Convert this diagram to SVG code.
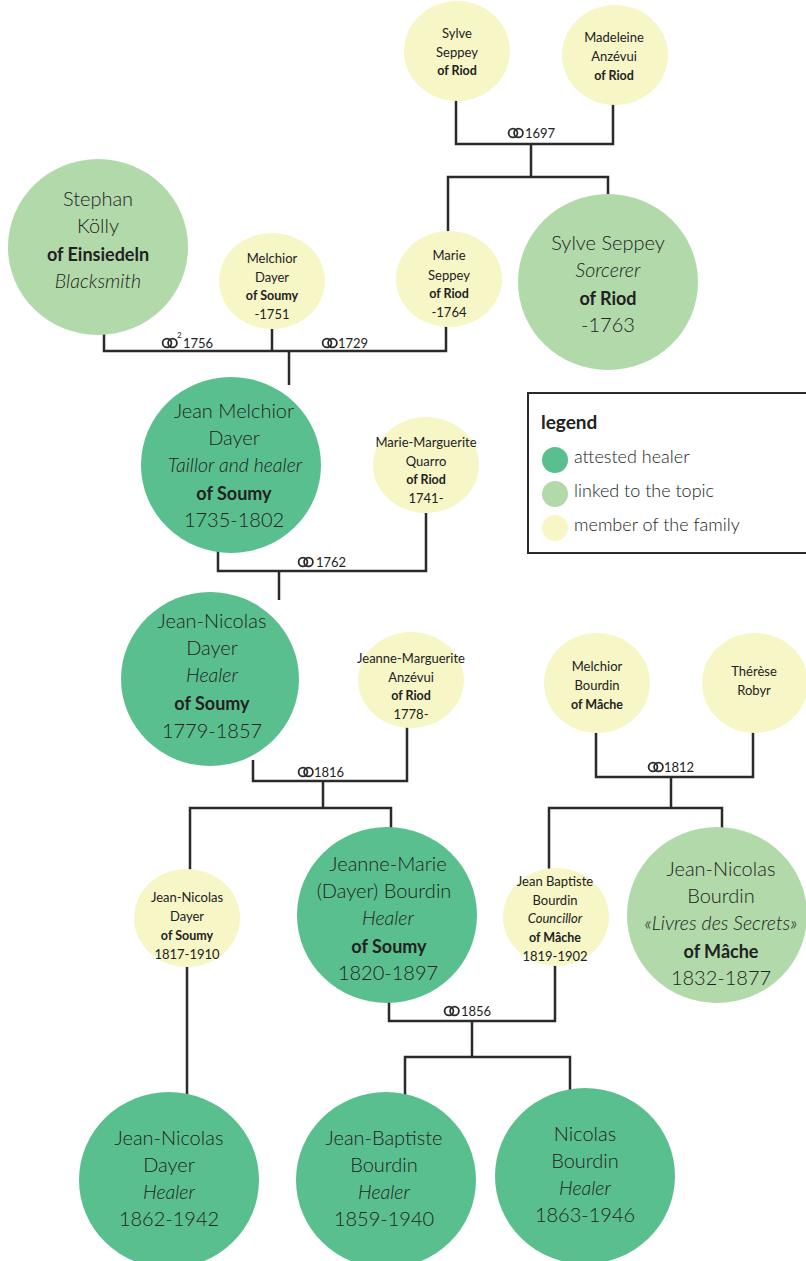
<svg xmlns="http://www.w3.org/2000/svg" xmlns:xlink="http://www.w3.org/1999/xlink" width="806" height="1261" viewBox="0 0 806 1261">
<defs>
<style>
text{font-family:Lato,"Open Sans","DejaVu Sans",sans-serif;fill:#222222;text-anchor:middle}
.b{font-size:20px;font-weight:300}
.bb{font-size:18px;font-weight:700}
.bi{font-size:19.5px;font-weight:300;font-style:italic}
.s{font-size:13px;font-weight:400}
.sb{font-size:12.5px;font-weight:700}
.si{font-size:13px;font-weight:400;font-style:italic}
.lbl{font-size:13px;font-weight:400;text-anchor:start}
.sup{font-size:8px;font-weight:400;text-anchor:start}
.leg{font-size:18px;font-weight:300;text-anchor:start}
.legt{font-size:19px;font-weight:700;text-anchor:start}
.heal{fill:#5abf8e}
.link{fill:#b1d9aa}
.fam{fill:#f6f6c6}
.ln{fill:none;stroke:#2a2a2a;stroke-width:2.5}
.ring{fill:none;stroke:#2a2a2a;stroke-width:1.8}
</style>
<g id="rings"><circle class="ring" cx="5" cy="0" r="4.4"/><circle class="ring" cx="10.5" cy="0" r="4.4"/></g>
</defs>
<rect width="806" height="1261" fill="#ffffff"/>

<g id="connectors">
<path class="ln" d="M456,95 V144 H613 V100"/>
<path class="ln" d="M531,144 V177"/>
<path class="ln" d="M448,235 V177 H608 V200"/>
<path class="ln" d="M104,330 V351 H446 V325"/>
<path class="ln" d="M272,325 V351"/>
<path class="ln" d="M289,351 V385"/>
<path class="ln" d="M218,545 V571 H426 V510"/>
<path class="ln" d="M279,571 V600"/>
<path class="ln" d="M253,760 V781 H407 V725"/>
<path class="ln" d="M323,781 V808"/>
<path class="ln" d="M190,875 V808 H391 V835"/>
<path class="ln" d="M596,728 V777 H753 V728"/>
<path class="ln" d="M671,777 V808"/>
<path class="ln" d="M549,875 V808 H722 V835"/>
<path class="ln" d="M187,965 V1100"/>
<path class="ln" d="M389,995 V1021 H555 V960"/>
<path class="ln" d="M472,1021 V1057"/>
<path class="ln" d="M405,1100 V1057 H570 V1095"/>
<use xlink:href="#rings" x="508" y="133"/><text class="lbl" x="525" y="138">1697</text>
<use xlink:href="#rings" x="162" y="343"/><text class="sup" x="177" y="338">2</text><text class="lbl" x="183" y="348">1756</text>
<use xlink:href="#rings" x="322" y="343"/><text class="lbl" x="338" y="348">1729</text>
<use xlink:href="#rings" x="298" y="562"/><text class="lbl" x="316" y="567">1762</text>
<use xlink:href="#rings" x="298" y="772"/><text class="lbl" x="314" y="777">1816</text>
<use xlink:href="#rings" x="648" y="767"/><text class="lbl" x="664" y="772">1812</text>
<use xlink:href="#rings" x="444" y="1011"/><text class="lbl" x="461" y="1016">1856</text>
</g>

<g id="n-sylve-top"><ellipse class="fam" cx="457" cy="51" rx="53" ry="50"/>
<text class="s" x="457" y="38">Sylve</text><text class="s" x="457" y="57">Seppey</text><text class="sb" x="457" y="75">of Riod</text></g>

<g id="n-madeleine"><ellipse class="fam" cx="615" cy="55" rx="53" ry="50"/>
<text class="s" x="614" y="42">Madeleine</text><text class="s" x="614" y="61">Anzévui</text><text class="sb" x="614" y="80">of Riod</text></g>

<g id="n-stephan"><ellipse class="link" cx="98" cy="247" rx="90" ry="88"/>
<text class="b" x="98" y="206">Stephan</text><text class="b" x="98" y="233">Kölly</text><text class="bb" x="98" y="261">of Einsiedeln</text><text class="bi" x="98" y="288">Blacksmith</text></g>

<g id="n-melchior-dayer"><ellipse class="fam" cx="272" cy="281" rx="53" ry="48"/>
<text class="s" x="272" y="263">Melchior</text><text class="s" x="272" y="282">Dayer</text><text class="sb" x="272" y="300">of Soumy</text><text class="s" x="272" y="319">-1751</text></g>

<g id="n-marie-seppey"><ellipse class="fam" cx="449" cy="279" rx="53" ry="48"/>
<text class="s" x="449" y="260">Marie</text><text class="s" x="449" y="280">Seppey</text><text class="sb" x="449" y="298">of Riod</text><text class="s" x="449" y="317">-1764</text></g>

<g id="n-sylve-sorcerer"><ellipse class="link" cx="608" cy="282" rx="90" ry="88"/>
<text class="b" x="608" y="250">Sylve Seppey</text><text class="bi" x="608" y="277">Sorcerer</text><text class="bb" x="608" y="305">of Riod</text><text class="b" x="608" y="332">-1763</text></g>

<g id="n-jean-melchior"><ellipse class="heal" cx="231" cy="465" rx="90" ry="88"/>
<text class="b" x="234" y="418">Jean Melchior</text><text class="b" x="234" y="445">Dayer</text><text class="bi" x="235" y="472">Taillor and healer</text><text class="bb" x="234" y="500">of Soumy</text><text class="b" x="234" y="527">1735-1802</text></g>

<g id="n-quarro"><ellipse class="fam" cx="426" cy="465" rx="53" ry="48"/>
<text class="s" x="426" y="447">Marie-Marguerite</text><text class="s" x="426" y="466">Quarro</text><text class="sb" x="426" y="484">of Riod</text><text class="s" x="426" y="503">1741-</text></g>

<g id="legend">
<rect x="528" y="393" width="300" height="160" fill="none" stroke="#2a2a2a" stroke-width="2"/>
<text class="legt" x="541" y="429">legend</text>
<circle class="heal" cx="555" cy="460" r="13"/><text class="leg" x="574" y="463">attested healer</text>
<circle class="link" cx="555" cy="494" r="13"/><text class="leg" x="574" y="497">linked to the topic</text>
<circle class="fam" cx="555" cy="528" r="13"/><text class="leg" x="574" y="531">member of the family</text>
</g>

<g id="n-jean-nicolas-1779"><ellipse class="heal" cx="210" cy="679" rx="89" ry="87"/>
<text class="b" x="212" y="628">Jean-Nicolas</text><text class="b" x="212" y="655">Dayer</text><text class="bi" x="212" y="682">Healer</text><text class="bb" x="212" y="710">of Soumy</text><text class="b" x="212" y="738">1779-1857</text></g>

<g id="n-jeanne-marguerite"><ellipse class="fam" cx="411" cy="680" rx="53" ry="48"/>
<text class="s" x="411" y="663">Jeanne-Marguerite</text><text class="s" x="411" y="682">Anzévui</text><text class="sb" x="411" y="700">of Riod</text><text class="s" x="411" y="719">1778-</text></g>

<g id="n-melchior-bourdin"><ellipse class="fam" cx="597" cy="683" rx="53" ry="50"/>
<text class="s" x="597" y="671">Melchior</text><text class="s" x="597" y="690">Bourdin</text><text class="sb" x="597" y="709">of Mâche</text></g>

<g id="n-therese"><ellipse class="fam" cx="755" cy="683" rx="53" ry="50"/>
<text class="s" x="754" y="676">Thérèse</text><text class="s" x="754" y="695">Robyr</text></g>

<g id="n-jean-nicolas-1817"><ellipse class="fam" cx="187" cy="918" rx="53" ry="49"/>
<text class="s" x="187" y="902">Jean-Nicolas</text><text class="s" x="187" y="921">Dayer</text><text class="sb" x="187" y="940">of Soumy</text><text class="s" x="187" y="959">1817-1910</text></g>

<g id="n-jeanne-marie"><ellipse class="heal" cx="387" cy="915" rx="90" ry="88"/>
<text class="b" x="388" y="871">Jeanne-Marie</text><text class="b" x="384" y="898">(Dayer) Bourdin</text><text class="bi" x="388" y="925">Healer</text><text class="bb" x="389" y="953">of Soumy</text><text class="b" x="388" y="980">1820-1897</text></g>

<g id="n-jean-baptiste-1819"><ellipse class="fam" cx="556" cy="917" rx="53" ry="49"/>
<text class="s" x="555" y="886">Jean Baptiste</text><text class="s" x="555" y="905">Bourdin</text><text class="si" x="555" y="923">Councillor</text><text class="sb" x="555" y="942">of Mâche</text><text class="s" x="555" y="961">1819-1902</text></g>

<g id="n-jean-nicolas-bourdin"><ellipse class="link" cx="717" cy="915" rx="90" ry="88"/>
<text class="b" x="721" y="876">Jean-Nicolas</text><text class="b" x="721" y="903">Bourdin</text><text class="bi" x="721" y="930">«Livres des Secrets»</text><text class="bb" x="721" y="958">of Mâche</text><text class="b" x="721" y="985">1832-1877</text></g>

<g id="n-jean-nicolas-1862"><ellipse class="heal" cx="169" cy="1180" rx="90" ry="88"/>
<text class="b" x="169" y="1145">Jean-Nicolas</text><text class="b" x="169" y="1172">Dayer</text><text class="bi" x="169" y="1199">Healer</text><text class="b" x="169" y="1226">1862-1942</text></g>

<g id="n-jean-baptiste-1859"><ellipse class="heal" cx="386" cy="1180" rx="90" ry="88"/>
<text class="b" x="384" y="1145">Jean-Baptiste</text><text class="b" x="384" y="1172">Bourdin</text><text class="bi" x="384" y="1199">Healer</text><text class="b" x="384" y="1226">1859-1940</text></g>

<g id="n-nicolas-bourdin"><ellipse class="heal" cx="585" cy="1176" rx="90" ry="88"/>
<text class="b" x="585" y="1141">Nicolas</text><text class="b" x="585" y="1168">Bourdin</text><text class="bi" x="585" y="1195">Healer</text><text class="b" x="585" y="1222">1863-1946</text></g>
</svg>
